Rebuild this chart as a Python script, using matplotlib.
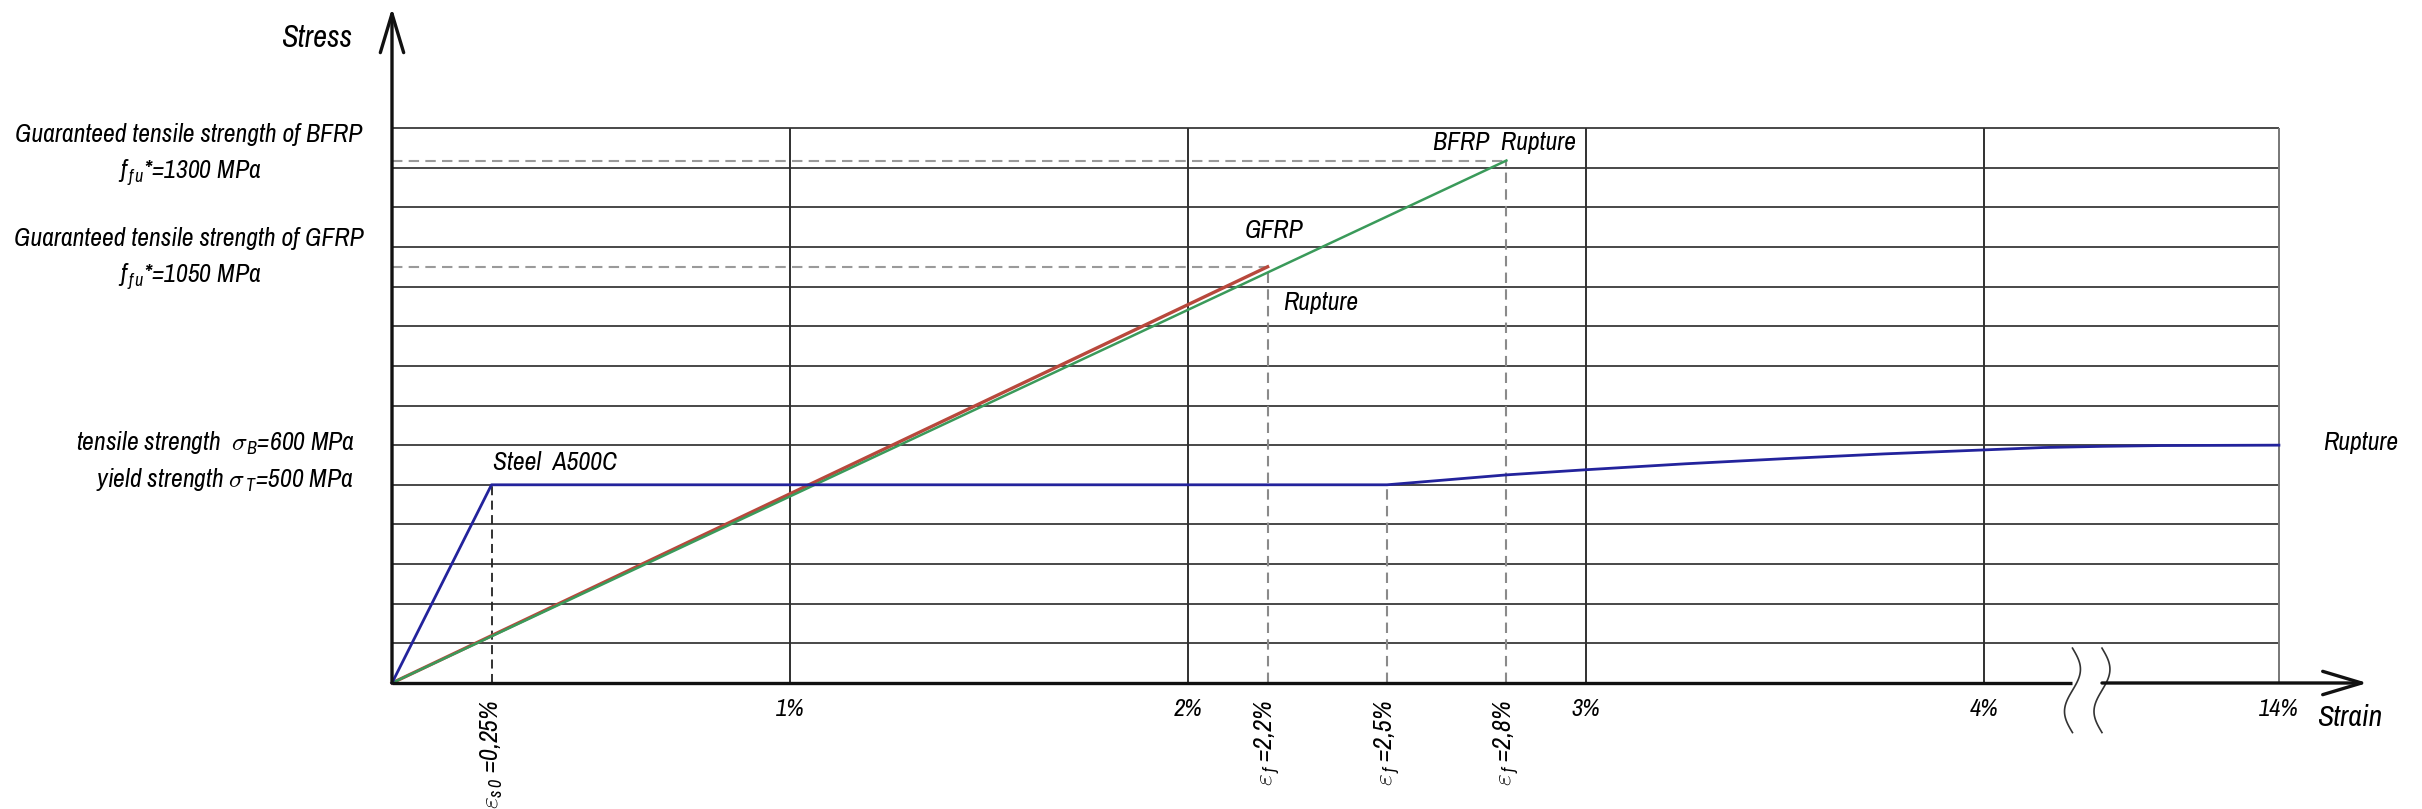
import matplotlib
matplotlib.use('Agg')
import matplotlib.pyplot as plt
import numpy as np
from matplotlib import font_manager

# look for a narrow / condensed italic sans; fall back to Liberation Sans
FONT, STRETCH, FS = 'Liberation Sans', 'normal', 0.85
for f in font_manager.fontManager.ttflist:
    narrow = ('Narrow' in f.name or 'Condensed' in f.name or
              f.stretch in ('condensed', 'semi-condensed', 600, 700, 'extra-condensed'))
    if narrow and f.style == 'italic' and 'Mono' not in f.name and 'Serif' not in f.name:
        FONT, STRETCH, FS = f.name, f.stretch, 1.0
        break

plt.rcParams['font.family'] = [FONT, 'DejaVu Sans']
plt.rcParams['font.style'] = 'italic'
plt.rcParams['font.stretch'] = STRETCH
spec = '%s:italic:stretch=%s' % (FONT, STRETCH)
plt.rcParams['mathtext.fontset'] = 'custom'
plt.rcParams['mathtext.it'] = spec
plt.rcParams['mathtext.rm'] = spec
plt.rcParams['mathtext.sf'] = spec

# data (strain in %, stress in MPa)
strain_ticks = [1, 2, 3, 4, 14]
tick_labels = ['1%', '2%', '3%', '4%', '14%']
stress_grid = np.arange(100, 1500, 100)

steel_strain = [0, 0.25, 2.5, 2.8, 3.0, 3.25, 3.5, 3.75, 4.0, 6, 8, 10, 14]
steel_stress = [0, 500, 500, 525, 538, 553, 566, 578, 588, 594, 597, 599, 600]
gfrp_strain = [0, 2.2]
gfrp_stress = [0, 1050]
bfrp_strain = [0, 2.8]
bfrp_stress = [0, 1318]

eps_values = [0.25, 2.2, 2.5, 2.8]
eps_labels = [r'$\varepsilon_{s\,0}$ =0,25%', r'$\varepsilon_{\,f}$ =2,2%',
              r'$\varepsilon_{\,f}$ =2,5%', r'$\varepsilon_{\,f}$ =2,8%']

W, H = 2422, 809
fig = plt.figure(figsize=(W / 100, H / 100), dpi=100)
ax = fig.add_axes([0, 0, 1, 1])
ax.axis('off')

# broken strain axis: 4% .. 14% squeezed
K = 0.741 / 10
def fwd(x):
    x = np.asarray(x, float)
    return np.where(x <= 4, x, 4 + (x - 4) * K)
def inv(x):
    x = np.asarray(x, float)
    return np.where(x <= 4, x, 4 + (x - 4) / K)
ax.set_xscale('function', functions=(fwd, inv))

X0, Y0, PXP, PXM = 392, 683, 398, 0.3964
ax.set_xlim(-X0 / PXP, float(inv((W - X0) / PXP)))
ax.set_ylim(-(H - Y0) / PXM, Y0 / PXM)

grid_c = '#474747'
ax.hlines(stress_grid, 0, 14, color=grid_c, lw=1.4, zorder=1)
ax.vlines(strain_ticks[:-1], 0, 1400, color='#303030', lw=1.4, zorder=1)
ax.vlines(strain_ticks[-1], 0, 1400, color='#777777', lw=1.4, zorder=1)

# dashed guides
dash = (0, (5, 3))
ax.hlines([gfrp_stress[-1], bfrp_stress[-1]], 0, [gfrp_strain[-1], bfrp_strain[-1]],
          color='#9a9a9a', lw=1.5, ls=dash, zorder=2)
ax.vlines([gfrp_strain[-1], steel_strain[2], bfrp_strain[-1]], 0,
          [gfrp_stress[-1], steel_stress[2], bfrp_stress[-1]],
          color='#8a8a8a', lw=1.5, ls=dash, zorder=2)
ax.vlines(steel_strain[1], 0, steel_stress[1], color='#222222', lw=1.3, ls=dash, zorder=2)

# curves
ax.plot(bfrp_strain, bfrp_stress, color='#3a9a5a', lw=1.8, zorder=4)
ax.plot(gfrp_strain, gfrp_stress, color='#b8483c', lw=2.4, zorder=3)
ax.plot(steel_strain, steel_stress, color='#23239c', lw=2.0, zorder=5)

# axes with open arrows
arr = dict(arrowstyle='->,head_length=1.4,head_width=0.42', lw=2.4, color='#111111',
           mutation_scale=20, shrinkA=0, shrinkB=0)
ax.annotate('', xy=(0, 1703), xytext=(0, 0), arrowprops=arr, zorder=6)

# axis break
yy = np.linspace(-125, 88, 80)
wave = 0.27 * np.sin(2 * np.pi * (88 - yy) / 213)
for xc in (7.0, 8.0):
    ax.plot(xc + wave, yy, color='#333333', lw=1.2, zorder=6)
ax.plot([0, 7.0], [0, 0], color='#111111', lw=2.4, zorder=6, solid_capstyle='butt')
ax.annotate('', xy=(17.0, 0), xytext=(8.0, 0), arrowprops=arr, zorder=6)

def px(x, y):
    return (x, H - y)

lab = 18.5 * FS
ax.annotate('Stress', px(317, 38), xycoords='figure pixels', ha='center', va='center',
            fontsize=22 * FS)
ax.annotate('Strain', px(2317, 718), xycoords='figure pixels', ha='left', va='center',
            fontsize=21.5 * FS)

ax.annotate('Guaranteed tensile strength of BFRP', px(189, 135), xycoords='figure pixels',
            ha='center', va='center', fontsize=lab)
ax.annotate(r'$f_{\,f\,u}$*=1300 MPa', px(190, 173), xycoords='figure pixels',
            ha='center', va='center', fontsize=lab)
ax.annotate('Guaranteed tensile strength of GFRP', px(189, 238), xycoords='figure pixels',
            ha='center', va='center', fontsize=lab)
ax.annotate(r'$f_{\,f\,u}$*=1050 MPa', px(190, 277), xycoords='figure pixels',
            ha='center', va='center', fontsize=lab)
ax.annotate(r'tensile strength  $\sigma_{B}$=600 MPa', px(355, 443), xycoords='figure pixels',
            ha='right', va='center', fontsize=lab)
ax.annotate(r'yield strength $\sigma_{\,T}$=500 MPa', px(353, 480), xycoords='figure pixels',
            ha='right', va='center', fontsize=lab)

ax.annotate('Steel  A500C', px(493, 463), xycoords='figure pixels', ha='left', va='center',
            fontsize=lab)
ax.annotate('GFRP', px(1245, 230), xycoords='figure pixels', ha='left', va='center',
            fontsize=lab)
ax.annotate('Rupture', px(1283, 302), xycoords='figure pixels', ha='left', va='center',
            fontsize=lab)
ax.annotate('BFRP  Rupture', px(1433, 142), xycoords='figure pixels', ha='left', va='center',
            fontsize=lab)
ax.annotate('Rupture', px(2323, 443), xycoords='figure pixels', ha='left', va='center',
            fontsize=lab)

for t, s in zip(strain_ticks, tick_labels):
    ax.annotate(s, xy=(t, 0), xytext=(0, -27), textcoords='offset pixels',
                ha='center', va='center', fontsize=17.5 * FS)

for v, s in zip(eps_values, eps_labels):
    ax.annotate(s, xy=(v, 0), xytext=(0, -17), textcoords='offset pixels',
                ha='center', va='top', rotation=90, fontsize=18.5 * FS)

fig.savefig('out.png', dpi=100, facecolor='white')
